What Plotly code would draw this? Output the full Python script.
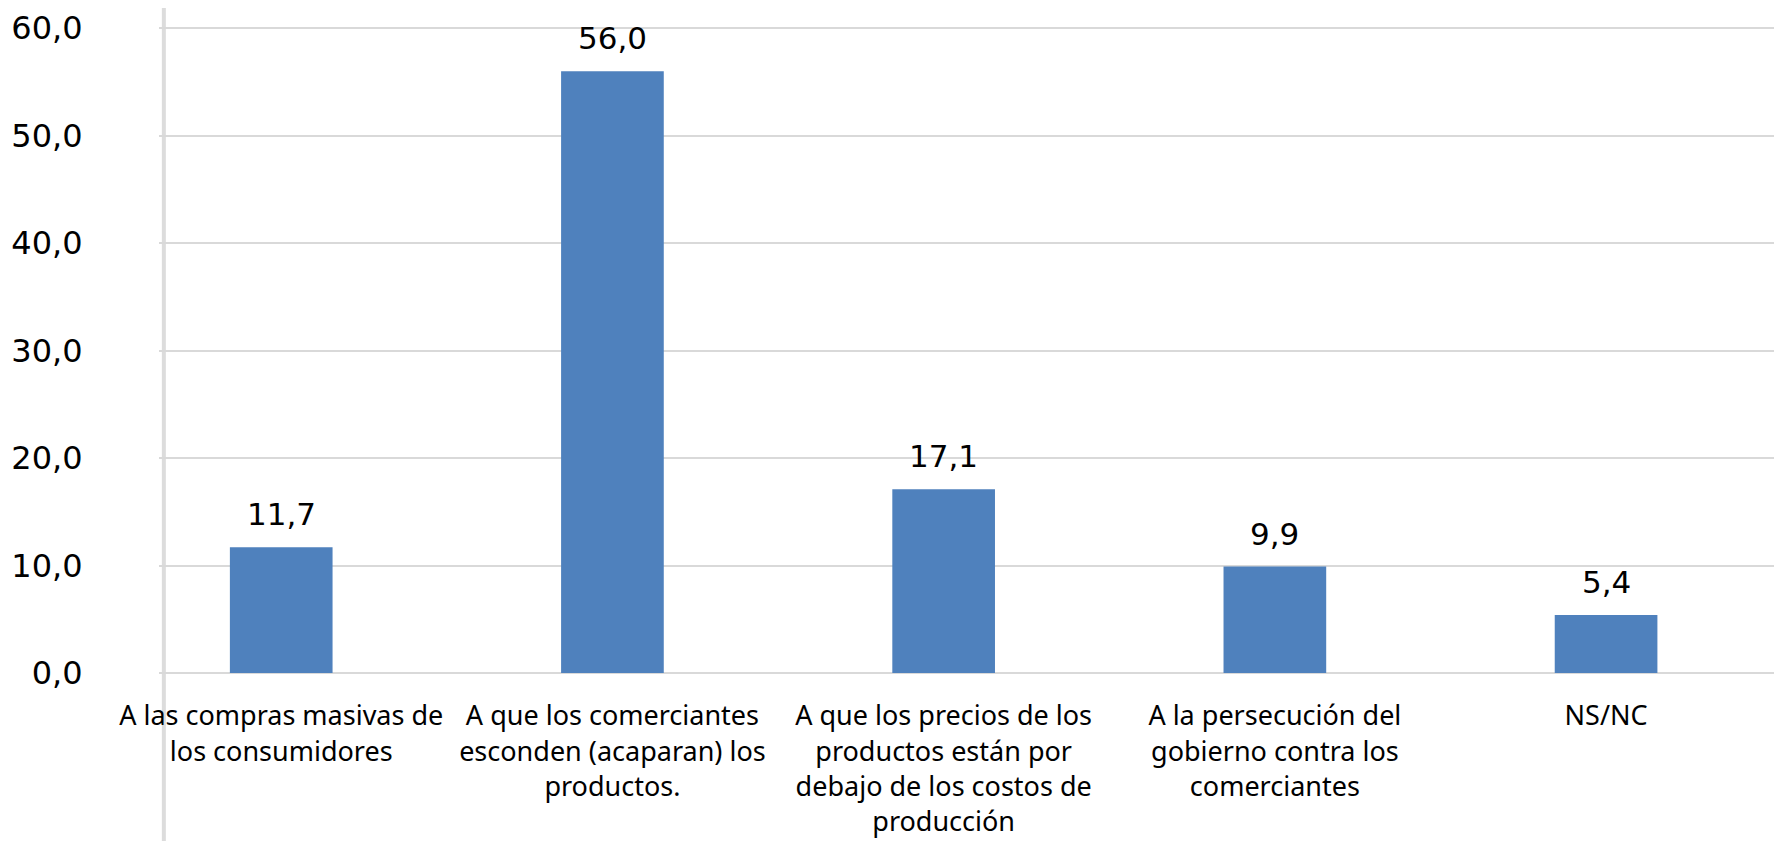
import plotly.graph_objects as go

categorias = [
    "A las compras masivas de<br>los consumidores",
    "A que los comerciantes<br>esconden (acaparan) los<br>productos.",
    "A que los precios de los<br>productos están por<br>debajo de los costos de<br>producción",
    "A la persecución del<br>gobierno contra los<br>comerciantes",
    "NS/NC",
]
porcentajes = [11.7, 56.0, 17.1, 9.9, 5.4]
ticks_y = [0, 10, 20, 30, 40, 50, 60]
etiquetas_y = ["0,0", "10,0", "20,0", "30,0", "40,0", "50,0", "60,0"]

fig = go.Figure()

posiciones = list(range(len(categorias)))

fig.add_trace(go.Bar(
    x=posiciones,
    y=porcentajes,
    marker_color="#4f81bd",
    marker_line_width=0,
    showlegend=False,
))

# etiquetas de valor encima de cada barra
for x, v in zip(posiciones, porcentajes):
    fig.add_annotation(
        x=x, y=v, text=f"{v:.1f}".replace(".", ","),
        showarrow=False, yanchor="bottom", yshift=13,
        font=dict(family="DejaVu Sans", size=31, color="#000000"),
    )

# linea gris vertical del fondo de la captura
fig.add_shape(type="line", xref="paper", yref="paper",
              x0=0.003, x1=0.003, y0=-0.3, y1=1.05,
              line=dict(color="#dcdcdc", width=4), layer="below")

fig.update_layout(
    width=1783, height=841,
    margin=dict(l=151, r=17, t=17, b=176),
    plot_bgcolor="white",
    paper_bgcolor="white",
    bargap=0.69,
    font=dict(family="Noto Sans", color="#000000"),
    xaxis=dict(
        tickmode="array",
        tickvals=posiciones,
        ticktext=categorias,
        range=[-0.369, 4.507],
        showgrid=False,
        showline=False,
        zeroline=False,
        ticks="outside", ticklen=19, tickcolor="rgba(0,0,0,0)",
        tickfont=dict(family="Noto Sans", size=27, color="#000000"),
        tickangle=0,
        automargin=False,
        ticklabeloverflow="allow",
    ),
    yaxis=dict(
        range=[0, 60.3],
        tickmode="array",
        tickvals=ticks_y,
        ticktext=etiquetas_y,
        showgrid=True, gridcolor="#d9d9d9", gridwidth=2,
        zeroline=True, zerolinecolor="#d9d9d9", zerolinewidth=2,
        showline=False,
        ticks="outside", ticklen=69, tickcolor="rgba(0,0,0,0)",
        tickfont=dict(family="DejaVu Sans", size=32, color="#000000"),
        automargin=False,
        ticklabeloverflow="allow",
    ),
)

fig.write_html("out.html")
